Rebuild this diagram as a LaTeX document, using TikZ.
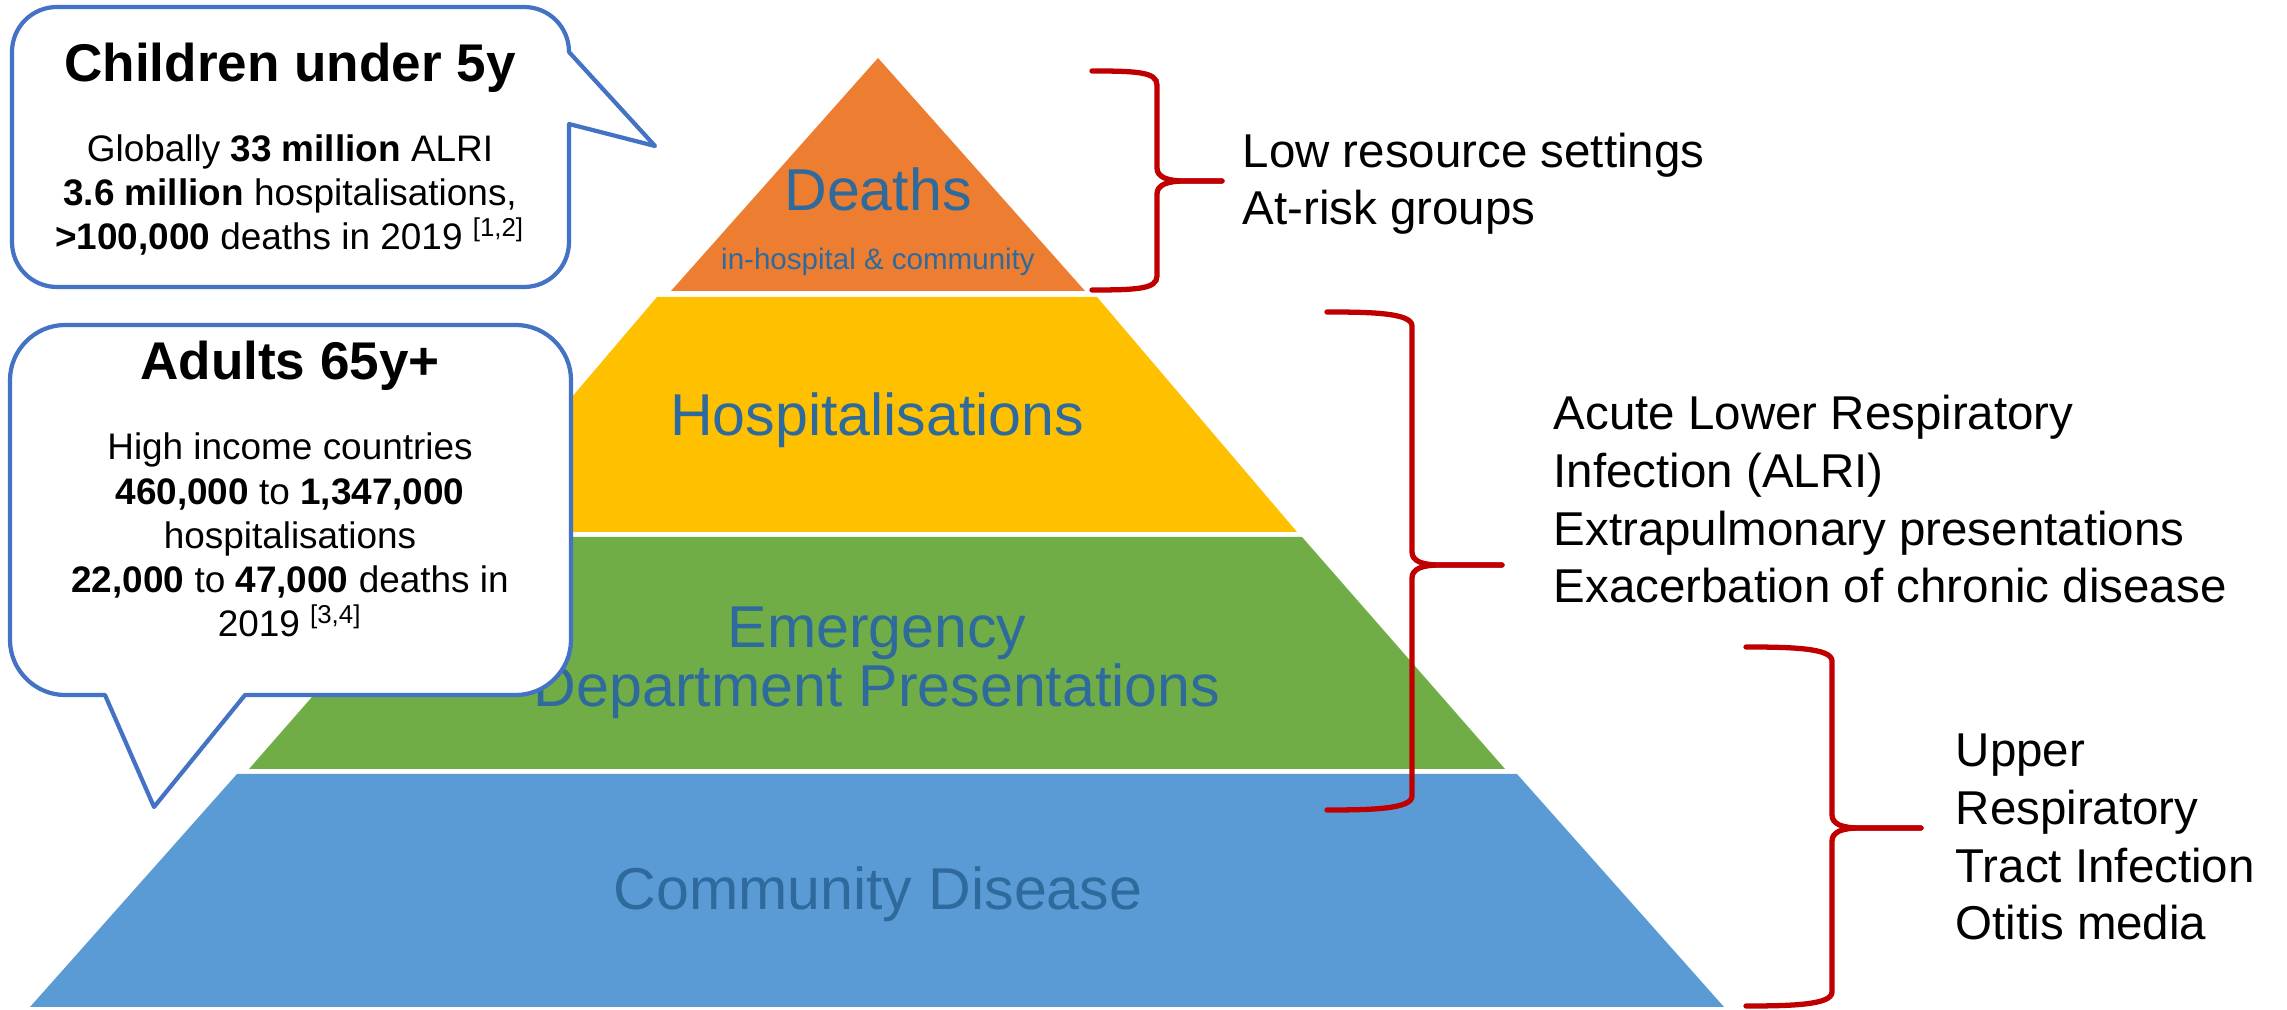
\documentclass[tikz,border=0pt]{standalone}
\usepackage{fontspec}
\setmainfont{Liberation Sans}
\definecolor{tierorange}{HTML}{ED7D31}
\definecolor{tieryellow}{HTML}{FFC000}
\definecolor{tiergreen}{HTML}{70AD47}
\definecolor{tierblue}{HTML}{5B9BD5}
\definecolor{labelblue}{HTML}{2F6A9C}
\definecolor{calloutblue}{HTML}{4472C4}
\definecolor{bracered}{HTML}{C00000}
% right curly brace: x0 = free ends, xv = spine, xt = tip
\newcommand{\drawbrace}[6]{%
  \draw[bracebar] (#1,#4) .. controls (#1+45,#4) and (#2,#4+1) .. (#2,#4+14)
    -- (#2,#5-13) .. controls (#2,#5-4) and (#2+10,#5) .. (#2+28,#5) -- (#3,#5);
  \draw[bracebar] (#3,#5) -- (#2+28,#5) .. controls (#2+10,#5) and (#2,#5+4) .. (#2,#5+13)
    -- (#2,#6-14) .. controls (#2,#6-1) and (#1+45,#6) .. (#1,#6);
}
\begin{document}
\begin{tikzpicture}[x=0.01cm,y=-0.01cm,
  tierlabel/.style={text=labelblue,font=\fontsize{16.8}{16.8}\selectfont,inner sep=0,anchor=base,align=center},
  sidenote/.style={text=black,font=\fontsize{13.5}{16.4}\selectfont,inner sep=0,anchor=base west,align=left},
  calltitle/.style={font=\fontsize{15.1}{18}\selectfont\bfseries,inner sep=0,anchor=base},
  callbody/.style={font=\fontsize{10.5}{12.6}\selectfont,inner sep=0,anchor=base,align=center},
  bubble/.style={draw=calloutblue,fill=white,line width=1.2pt,line join=round},
  bracebar/.style={draw=bracered,line width=1.5pt,line cap=round}]
\useasboundingbox (0,0) rectangle (2287,1010);
\fill[white] (0,0) rectangle (2287,1010);

% pyramid tiers, centre line x = 877
\fill[tierorange] (878,58) -- (1085,291) -- (671,291) -- cycle;
\fill[tieryellow] (657,297) -- (1097,297) -- (1297,532) -- (457,532) -- cycle;
\fill[tiergreen] (452,537) -- (1302,537) -- (1505,769) -- (249,769) -- cycle;
\fill[tierblue] (237,774) -- (1517,774) -- (1724,1007) -- (30,1007) -- cycle;

% tier labels (anchor = baseline of the last line)
\node[tierlabel] (deaths) at (878,211) {Deaths};
\node[tierlabel,font=\fontsize{8.4}{10}\selectfont] (deathsub) at (878,270) {in-hospital \& community};
\node[tierlabel] (hosp) at (877,436) {Hospitalisations};
\node[tierlabel] (ed) at (877,707) {Emergency\\Department Presentations};
\node[tierlabel] (comm) at (878,910) {Community Disease};

% braces and notes
\drawbrace{1092}{1157}{1222}{71}{181}{290}
\drawbrace{1327}{1412}{1502}{312}{565}{810}
\drawbrace{1746}{1832}{1921}{647}{828}{1006}
\node[sidenote] (noteA) at (1242,225) {Low resource settings\\At-risk groups};
\node[sidenote] (noteB) at (1553,603) {Acute Lower Respiratory\\Infection (ALRI)\\Extrapulmonary presentations\\Exacerbation of chronic disease};
\node[sidenote] (noteC) at (1955,940) {Upper\\Respiratory\\Tract Infection\\Otitis media};

% speech bubbles
\draw[bubble] (57,7) -- (524,7) .. controls (549,7) and (569,27) .. (569,52)
  -- (655,146) -- (569,124) -- (569,242) .. controls (569,267) and (549,287) .. (524,287)
  -- (57,287) .. controls (32,287) and (12,267) .. (12,242)
  -- (12,52) .. controls (12,27) and (32,7) .. (57,7) -- cycle;
\node[calltitle] (kidsTitle) at (290,82) {Children under 5y};
\node[callbody] (kidsBody) at (290,250) {Globally \textbf{33 million} ALRI\\\textbf{3.6 million} hospitalisations,\\\textbf{>100,000} deaths in 2019 \textsuperscript{[1,2]}};

\draw[bubble] (65,325) -- (516,325) .. controls (546,325) and (571,350) .. (571,380)
  -- (571,640) .. controls (571,670) and (546,695) .. (516,695)
  -- (245,695) -- (154,807) -- (105,695)
  -- (65,695) .. controls (35,695) and (10,670) .. (10,640)
  -- (10,380) .. controls (10,350) and (35,325) .. (65,325) -- cycle;
\node[calltitle] (adultTitle) at (290,380) {Adults 65y+};
\node[callbody] (adultBody) at (290,637) {High income countries\\\textbf{460,000} to \textbf{1,347,000}\\hospitalisations\\\textbf{22,000} to \textbf{47,000} deaths in\\2019 \textsuperscript{[3,4]}};
\end{tikzpicture}
\end{document}
